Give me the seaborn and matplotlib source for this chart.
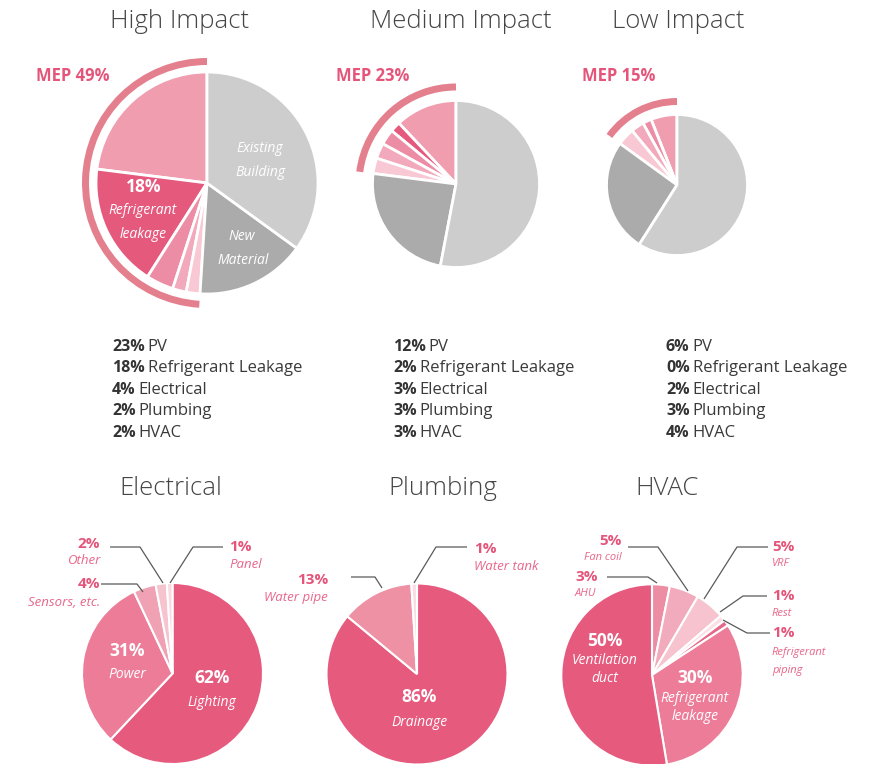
import matplotlib
matplotlib.use("Agg")
import matplotlib.pyplot as plt
from matplotlib.patches import Wedge
import seaborn as sns

sns.set_theme(style="white")
plt.rcParams["font.family"] = ["Open Sans", "DejaVu Sans"]

W, H = 879, 764

# ---------------- impact scenarios ----------------
impact_titles = ["High Impact", "Medium Impact", "Low Impact"]
mep_labels = ["PV", "Refrigerant Leakage", "Electrical", "Plumbing", "HVAC"]
high_mep = [23, 18, 4, 2, 2]
medium_mep = [12, 2, 3, 3, 3]
low_mep = [6, 0, 2, 3, 4]
rest_labels = ["New Material", "Existing Building"]
high_rest = [16, 35]
medium_rest = [24, 53]
low_rest = [26, 59]
mep_totals = [49, 23, 15]

# ---------------- MEP breakdowns ----------------
elec_labels = ["Lighting", "Power", "Sensors, etc.", "Other", "Panel"]
elec_values = [62, 31, 4, 2, 1]
plumb_labels = ["Drainage", "Water pipe", "Water tank"]
plumb_values = [86, 13, 1]
hvac_labels = ["AHU", "Fan coil", "VRF", "Rest", "Refrigerant piping",
               "Refrigerant leakage", "Ventilation duct"]
hvac_values = [3, 5, 5, 1, 1, 30, 50]

# ---------------- styling ----------------
top_colors = ["#F09DB0", "#E5597D", "#EC8CA5", "#F2A9BB", "#F8C9D4",
              "#ABABAB", "#CDCDCD"]
elec_colors = ["#E65A7E", "#EC7C98", "#F0A1B4", "#F6C4CF", "#FAD9E1"]
plumb_colors = ["#E65A7E", "#EE91A4", "#FADDE4"]
hvac_colors = ["#EC8DA4", "#F2ABBC", "#F6C3CE", "#FBE0E6", "#E8688A",
               "#EC7C98", "#E65A7E"]
ARC = "#E4808E"
PINK = "#E5557A"
PINK_LIGHT = "#E8678A"
TITLE = "#454545"
LEAD = "#5A5A5A"

fig = plt.figure(figsize=(W / 100, H / 100), dpi=100)
ax = fig.add_axes([0, 0, 1, 1])


def Y(y):
    return H - y


# ---------------- top row pies ----------------
top_geo = [((207, 183), 111, 125), ((456, 184), 83.5, 100.5), ((677, 185), 70.5, 87)]
top_data = [(high_mep, high_rest), (medium_mep, medium_rest), (low_mep, low_rest)]
title_x = [180, 461, 678]
mep_xy = [(36, 76), (336, 76), (582, 76)]

for (c, r, r_arc), (mep, rest), total, tx, mxy, title in zip(
        top_geo, top_data, mep_totals, title_x, mep_xy, impact_titles):
    ax.pie(mep + rest, colors=top_colors, startangle=90, counterclock=True,
           center=(c[0], Y(c[1])), radius=r, frame=True,
           wedgeprops=dict(edgecolor="white", linewidth=2))
    span = 360 * total / 100
    ax.add_patch(Wedge((c[0], Y(c[1])), r_arc, 90, 90 + span, width=7,
                       facecolor=ARC, edgecolor="none"))
    ax.text(tx, Y(22), title, ha="center", va="center", fontsize=18.5,
            color=TITLE, fontweight="light")
    ax.text(mxy[0], Y(mxy[1]), f"MEP {total}%", ha="left", va="center",
            fontsize=12, color=PINK, fontweight="bold")

# labels inside the high impact pie
ax.text(144, Y(187), f"{high_mep[1]}%", ha="center", va="center",
        fontsize=12.5, color="white", fontweight="bold")
ax.text(143, Y(211), "Refrigerant", ha="center", va="center", fontsize=10,
        color="white", style="italic")
ax.text(143, Y(235), "leakage", ha="center", va="center", fontsize=10,
        color="white", style="italic")
for txt, x, y in [("Existing", 260, 149), ("Building", 260, 173),
                  ("New", 242, 237), ("Material", 243, 261)]:
    ax.text(x, Y(y), txt, ha="center", va="center", fontsize=10,
            color="white", style="italic")

# ---------------- bottom row pies ----------------
bottom = [
    ("Electrical", 171, (172.5, 673.5), 90.5, elec_values, elec_colors),
    ("Plumbing", 443, (417, 674), 90.5, plumb_values, plumb_colors),
    ("HVAC", 667, (652, 675), 90.7, hvac_values, hvac_colors),
]
for title, tx, c, r, vals, cols in bottom:
    ax.pie(vals, colors=cols, startangle=90, counterclock=False,
           center=(c[0], Y(c[1])), radius=r, frame=True,
           wedgeprops=dict(edgecolor="white", linewidth=1.5))
    ax.text(tx, Y(489), title, ha="center", va="center", fontsize=18.5,
            color=TITLE, fontweight="light")

# white labels inside the bottom pies
inner = [
    (f"{elec_values[0]}%", None, 212, 678), ("Lighting", "i", 212, 702),
    (f"{elec_values[1]}%", None, 127, 651), ("Power", "i", 127, 674),
    (f"{plumb_values[0]}%", None, 419, 697), ("Drainage", "i", 419, 722),
    (f"{hvac_values[6]}%", None, 605, 641), ("Ventilation", "i", 605, 661),
    ("duct", "i", 605, 679),
    (f"{hvac_values[5]}%", None, 695, 678), ("Refrigerant", "i", 695, 698),
    ("leakage", "i", 695, 717),
]
for txt, kind, x, y in inner:
    if kind is None:
        ax.text(x, Y(y), txt, ha="center", va="center", fontsize=12.5,
                color="white", fontweight="bold")
    else:
        ax.text(x, Y(y), txt, ha="center", va="center", fontsize=10,
                color="white", style="italic")

# outer callouts: (value, name lines, x, ha, y pct, y name, name size, leader)
callouts = [
    (elec_values[3], ["Other"], 100, "right", 544, 561, 9.5,
     [(110, 547), (140, 547), (163, 583)]),
    (elec_values[2], ["Sensors, etc."], 100, "right", 584, 602, 9.5,
     [(101, 584), (137, 584), (143, 592)]),
    (elec_values[4], ["Panel"], 229, "left", 547, 564, 9.5,
     [(223, 547), (193, 547), (170, 583)]),
    (plumb_values[1], ["Water pipe"], 328, "right", 580, 598, 9.5,
     [(351, 577), (375, 577), (382, 588)]),
    (plumb_values[2], ["Water tank"], 474, "left", 549, 567, 9.5,
     [(467, 547), (436, 547), (414, 583)]),
    (hvac_values[1], ["Fan coil"], 622, "right", 541, 557, 8,
     [(628, 547), (658, 547), (688, 591)]),
    (hvac_values[0], ["AHU"], 575, "left", 577, 594, 8,
     [(607, 577), (648, 577), (657, 583)]),
    (hvac_values[2], ["VRF"], 772, "left", 547, 564, 8,
     [(768, 547), (737, 547), (704, 599)]),
    (hvac_values[3], ["Rest"], 772, "left", 596, 613, 8,
     [(767, 596), (743, 596), (720, 612)]),
    (hvac_values[4], ["Refrigerant", "piping"], 772, "left", 633, 652, 8,
     [(770, 633), (747, 633), (723, 620)]),
]
for val, names, x, ha, yp, yn, fs, lead in callouts:
    ax.text(x, Y(yp), f"{val}%", ha=ha, va="center", fontsize=11,
            color=PINK, fontweight="bold")
    for i, nm in enumerate(names):
        ax.text(x, Y(yn + i * 19), nm, ha=ha, va="center", fontsize=fs,
                color=PINK_LIGHT, style="italic")
    ax.plot([p[0] for p in lead], [Y(p[1]) for p in lead], color=LEAD,
            lw=0.9, solid_capstyle="butt")

ax.set_xlim(0, W)
ax.set_ylim(0, H)
ax.set_autoscale_on(False)
ax.set_axis_off()

# ---------------- scenario breakdown lists ----------------
fig.canvas.draw()
renderer = fig.canvas.get_renderer()
inv = ax.transData.inverted()
col_x = [112, 393, 666]
row_y = [347, 368, 390, 411, 433]
for x0, mep in zip(col_x, [high_mep, medium_mep, low_mep]):
    for y0, val, lab in zip(row_y, mep, mep_labels):
        t = ax.text(x0, Y(y0), f"{val}%", ha="left", va="center",
                    fontsize=11.5, color="#333333", fontweight="bold")
        bb = t.get_window_extent(renderer=renderer)
        x1 = inv.transform((bb.x1, bb.y0))[0]
        ax.text(x1 + 3, Y(y0), lab, ha="left", va="center", fontsize=12,
                color="#3A3A3A")

fig.savefig("out.png", dpi=100, facecolor="white")
